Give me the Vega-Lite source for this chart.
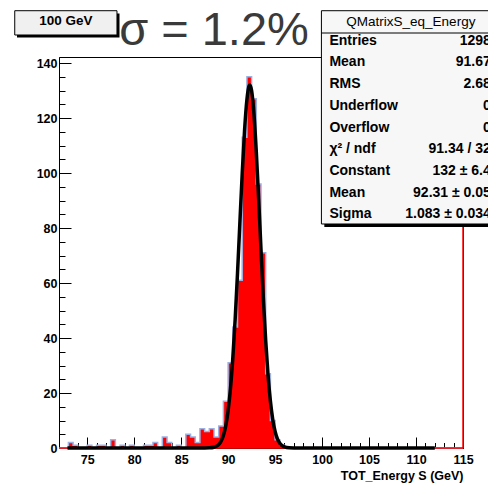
{
  "$schema": "https://vega.github.io/schema/vega-lite/v6.json",
  "width": 404,
  "height": 391,
  "autosize": {"type": "none"},
  "padding": {"left": 59, "top": 57, "right": 25, "bottom": 40},
  "background": "white",
  "config": {
    "view": {"stroke": "black", "strokeWidth": 1},
    "font": "Liberation Sans",
    "axis": {"zindex": 1}
  },
  "datasets": {
    "hist": [
      {"lo": 72.0, "count": 0}, {"lo": 72.5, "count": 0}, {"lo": 73.0, "count": 2}, {"lo": 73.5, "count": 1},
      {"lo": 74.0, "count": 0}, {"lo": 74.5, "count": 0}, {"lo": 75.0, "count": 1}, {"lo": 75.5, "count": 0},
      {"lo": 76.0, "count": 1}, {"lo": 76.5, "count": 1}, {"lo": 77.0, "count": 0}, {"lo": 77.5, "count": 3},
      {"lo": 78.0, "count": 0}, {"lo": 78.5, "count": 1}, {"lo": 79.0, "count": 0}, {"lo": 79.5, "count": 1},
      {"lo": 80.0, "count": 0}, {"lo": 80.5, "count": 0}, {"lo": 81.0, "count": 1}, {"lo": 81.5, "count": 1},
      {"lo": 82.0, "count": 2}, {"lo": 82.5, "count": 0}, {"lo": 83.0, "count": 4}, {"lo": 83.5, "count": 2},
      {"lo": 84.0, "count": 0}, {"lo": 84.5, "count": 1}, {"lo": 85.0, "count": 0}, {"lo": 85.5, "count": 5},
      {"lo": 86.0, "count": 4}, {"lo": 86.5, "count": 2}, {"lo": 87.0, "count": 7}, {"lo": 87.5, "count": 6},
      {"lo": 88.0, "count": 7}, {"lo": 88.5, "count": 4}, {"lo": 89.0, "count": 8}, {"lo": 89.5, "count": 17},
      {"lo": 90.0, "count": 31}, {"lo": 90.5, "count": 44}, {"lo": 91.0, "count": 61}, {"lo": 91.5, "count": 113},
      {"lo": 92.0, "count": 135}, {"lo": 92.5, "count": 127}, {"lo": 93.0, "count": 96}, {"lo": 93.5, "count": 71},
      {"lo": 94.0, "count": 27}, {"lo": 94.5, "count": 10}, {"lo": 95.0, "count": 3}, {"lo": 95.5, "count": 1},
      {"lo": 96.0, "count": 0}, {"lo": 96.5, "count": 0}, {"lo": 97.0, "count": 0}, {"lo": 97.5, "count": 0},
      {"lo": 98.0, "count": 0}, {"lo": 98.5, "count": 0}, {"lo": 99.0, "count": 0}, {"lo": 99.5, "count": 0},
      {"lo": 100.0, "count": 0}, {"lo": 100.5, "count": 0}, {"lo": 101.0, "count": 0}, {"lo": 101.5, "count": 0},
      {"lo": 102.0, "count": 0}, {"lo": 102.5, "count": 0}, {"lo": 103.0, "count": 0}, {"lo": 103.5, "count": 0},
      {"lo": 104.0, "count": 0}, {"lo": 104.5, "count": 0}, {"lo": 105.0, "count": 0}, {"lo": 105.5, "count": 0},
      {"lo": 106.0, "count": 0}, {"lo": 106.5, "count": 0}, {"lo": 107.0, "count": 0}, {"lo": 107.5, "count": 0},
      {"lo": 108.0, "count": 0}, {"lo": 108.5, "count": 0}, {"lo": 109.0, "count": 0}, {"lo": 109.5, "count": 0},
      {"lo": 110.0, "count": 0}, {"lo": 110.5, "count": 0}, {"lo": 111.0, "count": 0}, {"lo": 111.5, "count": 0},
      {"lo": 112.0, "count": 0}, {"lo": 112.5, "count": 0}, {"lo": 113.0, "count": 0}, {"lo": 113.5, "count": 0},
      {"lo": 114.0, "count": 0}, {"lo": 114.5, "count": 0}, {"lo": 115.0, "count": 0}
    ],
    "fit": [
      {"x": 72.9, "y": 0}, {"x": 80, "y": 0}, {"x": 86, "y": 0}, {"x": 87.5, "y": 0.01},
      {"x": 88, "y": 0.05}, {"x": 88.5, "y": 0.27}, {"x": 88.75, "y": 0.6}, {"x": 89, "y": 1.24},
      {"x": 89.25, "y": 2.44}, {"x": 89.5, "y": 4.56}, {"x": 89.75, "y": 8.07}, {"x": 90, "y": 13.57},
      {"x": 90.25, "y": 21.6}, {"x": 90.5, "y": 32.7}, {"x": 90.75, "y": 46.8}, {"x": 91, "y": 63.5},
      {"x": 91.25, "y": 81.8}, {"x": 91.5, "y": 99.8}, {"x": 91.75, "y": 115.5}, {"x": 92, "y": 126.7},
      {"x": 92.25, "y": 131.8}, {"x": 92.31, "y": 132}, {"x": 92.5, "y": 130.0}, {"x": 92.75, "y": 121.5},
      {"x": 93, "y": 107.7}, {"x": 93.25, "y": 90.6}, {"x": 93.5, "y": 72.2}, {"x": 93.75, "y": 54.5},
      {"x": 94, "y": 39.1}, {"x": 94.25, "y": 26.5}, {"x": 94.5, "y": 17.1}, {"x": 94.75, "y": 10.4},
      {"x": 95, "y": 6.03}, {"x": 95.25, "y": 3.31}, {"x": 95.5, "y": 1.72}, {"x": 95.75, "y": 0.85},
      {"x": 96, "y": 0.4}, {"x": 96.5, "y": 0.07}, {"x": 97, "y": 0.01}, {"x": 98, "y": 0},
      {"x": 105, "y": 0}, {"x": 112, "y": 0}
    ],
    "stats": [
      {"line": 1, "label": "Entries", "value": "1298"},
      {"line": 2, "label": "Mean", "value": "91.67"},
      {"line": 3, "label": "RMS", "value": "2.68"},
      {"line": 4, "label": "Underflow", "value": "0"},
      {"line": 5, "label": "Overflow", "value": "0"},
      {"line": 6, "label": "χ² / ndf", "value": "91.34 / 32"},
      {"line": 7, "label": "Constant", "value": "132 ± 6.4"},
      {"line": 8, "label": "Mean", "value": "92.31 ± 0.05"},
      {"line": 9, "label": "Sigma", "value": "1.083 ± 0.034"}
    ]
  },
  "layer": [
    {
      "data": {"name": "hist"},
      "layer": [
        {
          "mark": {"type": "area", "interpolate": "step-after", "color": "#ff0000", "opacity": 1},
          "encoding": {
            "x": {
              "field": "lo", "type": "quantitative",
              "scale": {"domain": [72, 115], "nice": false, "zero": false},
              "axis": {
                "orient": "bottom", "values": [75, 80, 85, 90, 95, 100, 105, 110, 115], "format": "d",
                "tickSize": -11, "tickColor": "black", "tickWidth": 1, "domain": false, "grid": false,
                "labelFont": "Liberation Sans", "labelFontWeight": "bold", "labelFontSize": 12.5,
                "labelColor": "black", "labelPadding": 16, "labelFlush": false, "labelOverlap": false,
                "title": "TOT_Energy S (GeV)", "titleFont": "Liberation Sans", "titleFontSize": 12.5,
                "titleFontWeight": "bold", "titleColor": "black", "titleAnchor": "end", "titlePadding": 4
              }
            },
            "y": {
              "field": "count", "type": "quantitative",
              "scale": {"domain": [0, 142.2], "nice": false},
              "axis": {
                "orient": "left", "values": [0, 20, 40, 60, 80, 100, 120, 140],
                "tickSize": -12, "tickColor": "black", "tickWidth": 1, "domain": true, "domainColor": "black",
                "grid": false, "labelFont": "Liberation Sans", "labelFontWeight": "bold", "labelFontSize": 12.5,
                "labelColor": "black", "labelPadding": 14, "labelFlush": false, "labelOverlap": false, "title": null
              }
            }
          }
        },
        {
          "mark": {"type": "line", "interpolate": "step-after", "color": "#9db1e3", "strokeWidth": 1.5},
          "encoding": {
            "x": {
              "field": "lo", "type": "quantitative",
              "axis": {
                "orient": "bottom", "values": [72,73,74,75,76,77,78,79,80,81,82,83,84,85,86,87,88,89,90,91,92,93,94,95,96,97,98,99,100,101,102,103,104,105,106,107,108,109,110,111,112,113,114,115],
                "tickSize": -5.5, "tickColor": "black", "tickWidth": 1, "labels": false, "domain": false, "grid": false, "title": null
              }
            },
            "y": {
              "field": "count", "type": "quantitative",
              "axis": {
                "orient": "left", "values": [0,5,10,15,20,25,30,35,40,45,50,55,60,65,70,75,80,85,90,95,100,105,110,115,120,125,130,135,140],
                "tickSize": -6, "tickColor": "black", "tickWidth": 1, "labels": false, "domain": false, "grid": false, "title": null
              }
            }
          }
        },
        {
          "data": {"values": [{}]},
          "mark": {"type": "rule", "color": "#ff0000", "strokeWidth": 1.5},
          "encoding": {"y": {"datum": 0, "type": "quantitative", "axis": null}}
        },
        {
          "data": {"values": [{}]},
          "mark": {"type": "rule", "color": "#ff0000", "strokeWidth": 1.5},
          "encoding": {"x": {"datum": 115, "type": "quantitative", "axis": null}}
        },
        {
          "data": {"name": "fit"},
          "mark": {"type": "line", "color": "black", "strokeWidth": 3.5, "interpolate": "monotone"},
          "encoding": {
            "x": {"field": "x", "type": "quantitative", "axis": null},
            "y": {"field": "y", "type": "quantitative", "axis": null}
          }
        }
      ],
      "resolve": {"axis": {"x": "independent", "y": "independent"}}
    },
    {
      "layer": [
        {
          "data": {"values": [{}]},
          "mark": {"type": "rect", "color": "black"},
          "encoding": {
            "x": {"datum": 67.53, "type": "quantitative", "axis": null},
            "x2": {"datum": 78.44},
            "y": {"datum": -0.25, "type": "quantitative", "axis": null, "scale": {"domain": [1.751, 19.77], "reverse": true, "nice": false, "zero": false}},
            "y2": {"datum": 0.853}
          }
        },
        {
          "data": {"values": [{}]},
          "mark": {"type": "rect", "fill": "#f0f0f0", "stroke": "black", "strokeWidth": 1},
          "encoding": {
            "x": {"datum": 67.29, "type": "quantitative", "axis": null},
            "x2": {"datum": 78.17},
            "y": {"datum": -0.382, "type": "quantitative", "axis": null},
            "y2": {"datum": 0.737}
          }
        },
        {
          "data": {"values": [{}]},
          "mark": {"type": "text", "text": "100 GeV", "font": "Liberation Sans", "fontWeight": "bold", "fontSize": 13.5, "align": "center", "baseline": "middle", "color": "black"},
          "encoding": {
            "x": {"datum": 72.73, "type": "quantitative", "axis": null},
            "y": {"datum": 0.115, "type": "quantitative", "axis": null}
          }
        },
        {
          "data": {"values": [{}]},
          "mark": {"type": "text", "text": "σ = 1.2%", "font": "Liberation Sans", "fontSize": 47, "align": "left", "baseline": "alphabetic", "color": "#3a3a3a"},
          "encoding": {
            "x": {"datum": 78.4, "type": "quantitative", "axis": null},
            "y": {"datum": 1.221, "type": "quantitative", "axis": null}
          }
        },
        {
          "data": {"values": [{}]},
          "mark": {"type": "rect", "color": "black"},
          "encoding": {
            "x": {"datum": 100.24, "type": "quantitative", "axis": null},
            "x2": {"datum": 119.77},
            "y": {"datum": -0.244, "type": "quantitative", "axis": null},
            "y2": {"datum": 9.585}
          }
        },
        {
          "data": {"values": [{}]},
          "mark": {"type": "rect", "fill": "#f7f7f7", "stroke": "black", "strokeWidth": 1},
          "encoding": {
            "x": {"datum": 99.93, "type": "quantitative", "axis": null},
            "x2": {"datum": 119.45},
            "y": {"datum": -0.382, "type": "quantitative", "axis": null},
            "y2": {"datum": 9.447}
          }
        },
        {
          "data": {"values": [{}]},
          "mark": {"type": "rule", "color": "black", "strokeWidth": 1},
          "encoding": {
            "x": {"datum": 99.93, "type": "quantitative", "axis": null},
            "x2": {"datum": 119.45},
            "y": {"datum": 0.645, "type": "quantitative", "axis": null}
          }
        },
        {
          "data": {"values": [{}]},
          "mark": {"type": "text", "text": "QMatrixS_eq_Energy", "font": "Liberation Sans", "fontSize": 13.5, "align": "center", "baseline": "middle", "color": "black"},
          "encoding": {
            "x": {"datum": 109.45, "type": "quantitative", "axis": null},
            "y": {"datum": 0.134, "type": "quantitative", "axis": null}
          }
        },
        {
          "data": {"name": "stats"},
          "mark": {"type": "text", "font": "Liberation Sans", "fontWeight": "bold", "fontSize": 14, "align": "left", "baseline": "middle", "color": "black"},
          "encoding": {
            "x": {"datum": 100.78, "type": "quantitative", "axis": null},
            "y": {"field": "line", "type": "quantitative", "axis": null},
            "text": {"field": "label"}
          }
        },
        {
          "data": {"name": "stats"},
          "mark": {"type": "text", "font": "Liberation Sans", "fontWeight": "bold", "fontSize": 14, "align": "right", "baseline": "middle", "color": "black"},
          "encoding": {
            "x": {"datum": 117.96, "type": "quantitative", "axis": null},
            "y": {"field": "line", "type": "quantitative", "axis": null},
            "text": {"field": "value"}
          }
        }
      ]
    }
  ],
  "resolve": {"scale": {"y": "independent"}, "axis": {"x": "independent", "y": "independent"}}
}
